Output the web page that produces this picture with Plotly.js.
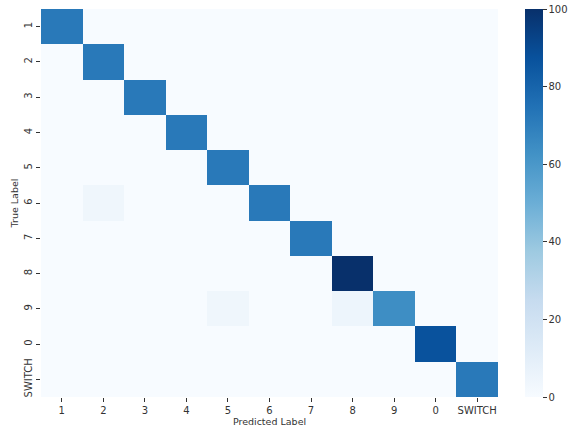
<!DOCTYPE html>
<html>
<head>
<meta charset="utf-8">
<script src="https://cdn.plot.ly/plotly-3.0.1.min.js"></script>
<style>html,body{margin:0;padding:0;background:#fff;}#chart{width:570px;height:429px;}</style>
</head>
<body>
<div id="chart"></div>
<script>
const labels = ["1","2","3","4","5","6","7","8","9","0","SWITCH"];
// rows = true label, columns = predicted label
const row1 = [72,0,0,0,0,0,0,0,0,0,0];
const row2 = [0,72,0,0,0,0,0,0,0,0,0];
const row3 = [0,0,72,0,0,0,0,0,0,0,0];
const row4 = [0,0,0,72,0,0,0,0,0,0,0];
const row5 = [0,0,0,0,72,0,0,0,0,0,0];
const row6 = [0,4,0,0,0,72,0,0,0,0,0];
const row7 = [0,0,0,0,0,0,72,0,0,0,0];
const row8 = [0,0,0,0,0,0,0,100,0,0,0];
const row9 = [0,0,0,0,4,0,0,5,64,0,0];
const row0 = [0,0,0,0,0,0,0,0,0,87,0];
const rowS = [0,0,0,0,0,0,0,0,0,0,72];
const z = [row1,row2,row3,row4,row5,row6,row7,row8,row9,row0,rowS];

const blues = [
  [0.0,"#f7fbff"],[0.125,"#deebf7"],[0.25,"#c6dbef"],[0.375,"#9ecae1"],
  [0.5,"#6baed6"],[0.625,"#4292c6"],[0.75,"#2171b5"],[0.875,"#08519c"],[1.0,"#08306b"]
];

const trace = {
  type: "heatmap",
  x: labels, y: labels, z: z,
  zmin: 0, zmax: 100,
  colorscale: blues,
  xgap: 0, ygap: 0,
  colorbar: {
    x: 1.037, xanchor: "left", xpad: 10, y: 0.5, yanchor: "middle", ypad: 0,
    len: 1, lenmode: "fraction",
    thickness: 18, thicknessmode: "pixels", outlinewidth: 0,
    ticks: "outside", ticklen: 4, tickcolor: "#333", tickwidth: 1,
    tickvals: [0,20,40,60,80,100],
    tickfont: {family: "DejaVu Sans", size: 10, color: "#333"}
  },
  hoverinfo: "none"
};

const layout = {
  width: 570, height: 429,
  margin: {l: 41, r: 72, t: 9, b: 32, autoexpand: false},
  paper_bgcolor: "#fff", plot_bgcolor: "#fff",
  font: {family: "DejaVu Sans", size: 10, color: "#333"},
  xaxis: {
    type: "category", showgrid: false, zeroline: false, showline: false,
    ticks: "outside", ticklen: 4, tickcolor: "#333", tickwidth: 1,
    tickfont: {size: 10, color: "#333"},
    title: {text: "Predicted Label", font: {size: 9.5, color: "#333"}, standoff: 0}
  },
  yaxis: {
    type: "category", autorange: "reversed", showgrid: false, zeroline: false, showline: false,
    ticks: "outside", ticklen: 4, tickcolor: "#333", tickwidth: 1,
    tickangle: -90,
    tickfont: {size: 10, color: "#333"},
    title: {text: "True Label", font: {size: 9.5, color: "#333"}, standoff: 2}
  }
};

Plotly.newPlot("chart", [trace], layout, {displayModeBar: false, staticPlot: true});
</script>
</body>
</html>
